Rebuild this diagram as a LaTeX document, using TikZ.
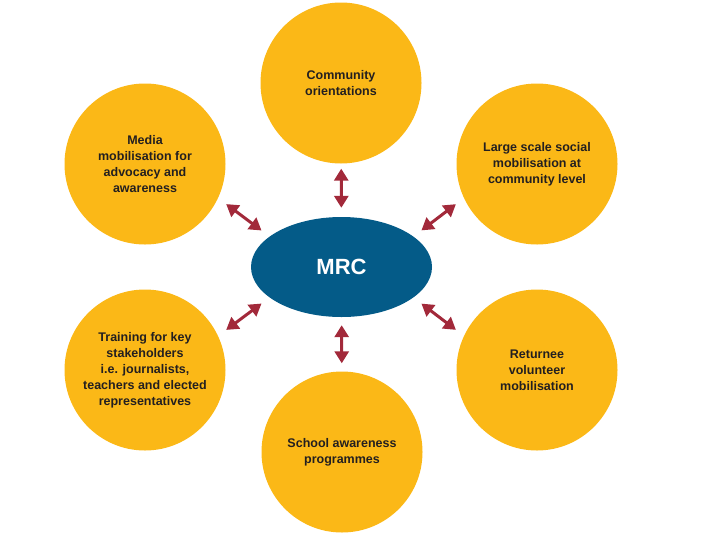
\documentclass[tikz,border=0pt]{standalone}
\usepackage{fontspec}
\setmainfont{Liberation Sans}
\usetikzlibrary{arrows.meta, shapes.geometric}
\definecolor{mrcyellow}{HTML}{FBB817}
\definecolor{mrcblue}{HTML}{045B88}
\definecolor{mrcred}{HTML}{A2293A}
\definecolor{mrcdark}{HTML}{231F20}
\tikzset{
  topic/.style={
    circle,
    fill=mrcyellow,
    minimum size=161pt,
    inner sep=0pt,
    align=center,
    text=mrcdark,
    font=\fontsize{12.5}{16}\selectfont\bfseries
  },
  hub/.style={
    ellipse,
    fill=mrcblue,
    minimum width=181pt,
    minimum height=100pt,
    inner sep=0pt,
    text=white,
    font=\fontsize{22}{26}\selectfont\bfseries
  },
  link/.style={
    {Triangle[width=14pt,length=12pt]}-{Triangle[width=14pt,length=12pt]},
    line width=3pt,
    color=mrcred
  }
}
\begin{document}
\begin{tikzpicture}[x=1pt, y=-1pt]
    \useasboundingbox (0,0) rectangle (719,544);

    % centre
    \node[hub] (mrc) at (341.5,267) {MRC};

    % activities round the centre
    \node[topic] (orient) at (341,83) {Community\\orientations};
    \node[topic] (media) at (145,164) {Media\\mobilisation for\\advocacy and\\awareness};
    \node[topic] (social) at (537,164) {Large scale social\\mobilisation at\\community level};
    \node[topic] (training) at (145,370) {Training for key\\stakeholders\\i.e. journalists,\\teachers and elected\\representatives};
    \node[topic] (returnee) at (537,370) {Returnee\\volunteer\\mobilisation};
    \node[topic] (school) at (342,452) {School awareness\\programmes};

    % double arrows
    \draw[link, shorten <=9pt, shorten >=5pt] (mrc) -- (orient);
    \draw[link, shorten <=10pt, shorten >=10pt] (mrc.157) -- (media.-25);
    \draw[link, shorten <=10pt, shorten >=10pt] (mrc.23) -- (social.-155);
    \draw[link, shorten <=10pt, shorten >=10pt] (mrc.-157) -- (training.25);
    \draw[link, shorten <=10pt, shorten >=10pt] (mrc.-23) -- (returnee.155);
    \draw[link, shorten <=8pt, shorten >=8pt] (mrc) -- (school);

\end{tikzpicture}
\end{document}
